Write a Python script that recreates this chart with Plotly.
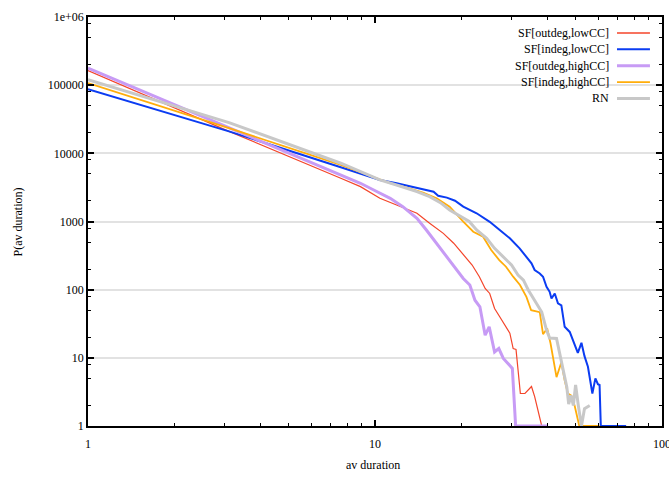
import plotly.graph_objects as go

# Avalanche duration distributions, P(av duration) vs av duration
red_x = [1, 3.1, 7.6, 8.9, 10.4, 11.9, 14.0, 15.5, 17.3, 18.8, 20.3, 21.8, 23.1, 24.2, 25.1,
         26.1, 27.2, 27.9, 29.5, 30.3, 31.0, 32.1, 33.3, 35.1, 36.0, 38.1]
red_y = [164000, 21000, 4310, 3245, 2190, 1750, 1320, 940, 670, 480, 322, 230, 155, 104, 88,
         53, 40, 34, 23, 13.7, 13.3, 3.0, 3.0, 3.8, 2.7, 1]

blue_x = [1, 3.1, 7.6, 10.4, 11.9, 12.9, 14.0, 15.1, 16.0, 16.6, 17.8, 19.0, 20.3, 22.6, 25.1,
          27.2, 29.5, 31.9, 33.7, 35.1, 36.0, 37.5, 38.5, 39.6, 40.6, 41.2, 42.3, 43.4, 44.6,
          45.8, 47.7, 49.6, 50.9, 52.4, 53.7, 55.2, 57.2, 58.6, 59.8, 60.6, 61.2, 75]
blue_y = [87500, 21000, 6250, 4070, 3640, 3360, 3070, 2830, 2740, 2390, 2240, 2020, 1650, 1320, 990,
          750, 566, 404, 304, 243, 194, 173, 155, 110, 93, 74, 88, 63, 59,
          28.5, 24, 15.3, 11.8, 16.6, 10.6, 7.4, 3.0, 5.0, 4.1, 4.0, 1, 1]

purple_x = [1, 3.1, 7.6, 8.9, 9.9, 11.3, 12.5, 14.0, 15.1, 16.4, 17.8, 19.0, 20.3, 21.4, 22.3,
            23.2, 24.2, 25.0, 26.1, 27.0, 28.0, 30.1, 30.9, 40.1]
purple_y = [178000, 24000, 4820, 3640, 2900, 2190, 1650, 1114, 750, 478, 304, 217, 146, 117, 70,
            56, 21.5, 28.5, 12.2, 13.7, 9.8, 7.0, 1, 1]

orange_x = [1, 3.1, 7.6, 11.3, 12.9, 14.7, 16.4, 18.2, 20.3, 22.0, 23.8, 25.4, 27.1, 28.6, 30.3,
            32.0, 33.7, 35.0, 37.5, 38.5, 39.8, 40.9, 42.9, 44.6, 45.8, 47.0, 48.3, 49.6, 51.5, 60.6]
orange_y = [107000, 23400, 6760, 3640, 3135, 2650, 2190, 1650, 993, 708, 598, 381, 272, 217, 155,
            117, 78.5, 50, 46.8, 22.2, 27, 16.2, 5.2, 8.6, 4.7, 3.0, 2.8, 2.0, 1, 1]

gray_x = [1, 3.1, 7.6, 8.9, 10.4, 12.2, 14.0, 15.5, 16.9, 18.2, 19.5, 21.3, 22.6, 24.5, 26.1,
          27.9, 29.9, 31.5, 32.9, 34.2, 36.0, 37.0, 38.1, 39.6, 40.6, 42.9, 44.0, 45.2, 46.6,
          47.3, 48.2, 49.1, 50.0, 51.1, 52.4, 53.7, 56.0]
gray_y = [120000, 28200, 7160, 5390, 4070, 3320, 2740, 2310, 1890, 1475, 1245, 1000, 750, 566, 404,
          304, 230, 164, 138, 99, 70, 56, 47, 25.5, 19.5, 19.2, 11.6, 7.4, 3.7,
          2.1, 2.8, 2.0, 4.0, 2.0, 1, 1.8, 2.0]

series_names = ["SF[outdeg,lowCC]", "SF[indeg,lowCC]", "SF[outdeg,highCC]", "SF[indeg,highCC]", "RN"]
series_colors = ["#f4452a", "#0b3cf2", "#c79bf5", "#ffad0a", "#c8c8c8"]
series_widths = [1.2, 2.0, 3.0, 1.8, 3.0]

x_ticks = [1, 10, 100]
x_ticktext = ["1", "10", "100"]
x_minor = [2, 3, 4, 5, 6, 7, 8, 9, 20, 30, 40, 50, 60, 70, 80, 90]
y_ticks = [1, 10, 100, 1000, 10000, 100000, 1000000]
y_ticktext = ["1", "10", "100", "1000", "10000", "100000", "1e+06"]
y_minor = [m * d for d in [1, 10, 100, 1000, 10000, 100000] for m in (2, 5, 8)]

FONT = "Liberation Serif, Times New Roman, serif"

xs = [red_x, blue_x, purple_x, orange_x, gray_x]
ys = [red_y, blue_y, purple_y, orange_y, gray_y]

fig = go.Figure()
for name, x, y, c, w in zip(series_names, xs, ys, series_colors, series_widths):
    fig.add_trace(go.Scatter(x=x, y=y, mode="lines", name=name,
                             line=dict(color=c, width=w), showlegend=False))

axis_common = dict(
    type="log", showline=True, linecolor="black", linewidth=1.5, mirror="ticks",
    ticks="inside", ticklen=6, tickwidth=1.5, tickcolor="black",
    tickmode="array", zeroline=False, automargin=False, ticklabeloverflow="allow",
    tickfont=dict(family=FONT, size=12, color="black"),
)

fig.update_xaxes(**axis_common, range=[0, 2], tickvals=x_ticks, ticktext=x_ticktext,
                 showgrid=False, ticklabelstandoff=6,
                 minor=dict(tickmode="array", tickvals=x_minor, ticks="inside",
                            ticklen=3, tickwidth=1, tickcolor="black", showgrid=False))
fig.update_yaxes(**axis_common, range=[0, 6], tickvals=y_ticks, ticktext=y_ticktext,
                 showgrid=True, gridcolor="#e2e2e2", gridwidth=1.5,
                 minor=dict(tickmode="array", tickvals=y_minor, ticks="inside",
                            ticklen=3, tickwidth=1, tickcolor="black", showgrid=False))

# key box in the upper right, text right-aligned with sample lines after it
shapes = [dict(type="rect", xref="paper", yref="paper", x0=0.709, x1=1.0, y0=0.78, y1=0.995,
               fillcolor="white", line=dict(width=0), layer="between")]
annotations = []
row_y = [0.961, 0.921, 0.881, 0.841, 0.801]
for name, c, w, yy in zip(series_names, series_colors, series_widths, row_y):
    annotations.append(dict(text=name, x=0.912, y=yy, xref="paper", yref="paper",
                            xanchor="right", yanchor="middle", showarrow=False,
                            font=dict(family=FONT, size=12, color="black")))
    shapes.append(dict(type="line", xref="paper", yref="paper", x0=0.9216, x1=0.979,
                       y0=yy, y1=yy, line=dict(color=c, width=max(w, 1.6)), layer="above"))

annotations.append(dict(text="av duration", x=0.497, y=-0.095, xref="paper", yref="paper",
                        xanchor="center", yanchor="middle", showarrow=False,
                        font=dict(family=FONT, size=12, color="black")))
annotations.append(dict(text="P(av duration)", x=-0.122, y=0.5, xref="paper", yref="paper",
                        xanchor="center", yanchor="middle", showarrow=False, textangle=-90,
                        font=dict(family=FONT, size=12, color="black")))

fig.update_layout(
    width=669, height=478,
    margin=dict(l=88, r=7, t=17, b=52, autoexpand=False),
    paper_bgcolor="white", plot_bgcolor="white",
    shapes=shapes, annotations=annotations,
    showlegend=False,
)

fig.write_html("out.html")
